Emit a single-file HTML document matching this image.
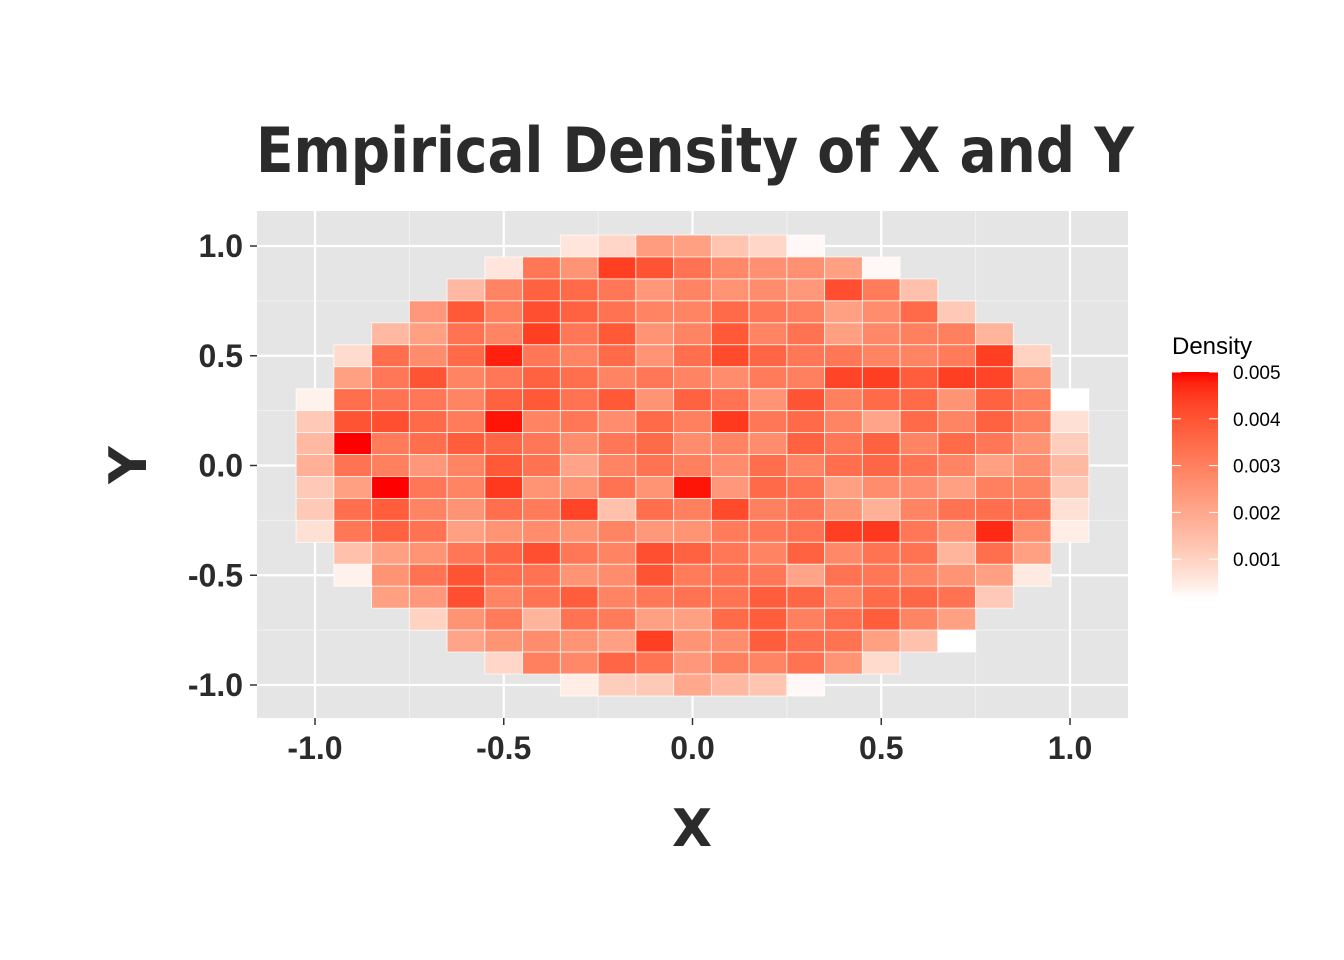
<!DOCTYPE html>
<html><head><meta charset="utf-8"><style>
html,body{margin:0;padding:0;background:#fff;}
svg{display:block;}
</style></head><body>
<svg id="chart" width="1344" height="960" xmlns="http://www.w3.org/2000/svg">
<rect width="1344" height="960" fill="#fff"/>
<text x="695" y="172" text-anchor="middle" font-family="'DejaVu Sans', 'Liberation Sans', sans-serif" font-weight="bold" font-size="62" fill="#2b2b2b" textLength="878" lengthAdjust="spacingAndGlyphs">Empirical Density of X and Y</text>
<rect x="257" y="211" width="871" height="507" fill="#e5e5e5"/>
<g id="grid"></g>
<g id="cells"></g>
<g id="axes"></g>
<text x="692" y="846" text-anchor="middle" font-family="'DejaVu Sans', 'Liberation Sans', sans-serif" font-weight="bold" font-size="52" fill="#2b2b2b">X</text>
<text transform="translate(146,465) rotate(-90)" text-anchor="middle" font-family="'DejaVu Sans', 'Liberation Sans', sans-serif" font-weight="bold" font-size="52" fill="#2b2b2b">Y</text>
<g id="legend">
<text x="1172" y="354" font-family="'Liberation Sans', sans-serif" font-size="24" fill="#000">Density</text>
<defs><linearGradient id="lg" x1="0" y1="1" x2="0" y2="0"></linearGradient></defs>
<rect x="1172" y="372" width="46" height="226" fill="url(#lg)"/>
</g>
</svg>
<script>
const xCenters = [-1.0,-0.9,-0.8,-0.7,-0.6,-0.5,-0.4,-0.3,-0.2,-0.1,0.0,0.1,0.2,0.3,0.4,0.5,0.6,0.7,0.8,0.9,1.0];
const yCenters = [1.0,0.9,0.8,0.7,0.6,0.5,0.4,0.3,0.2,0.1,0.0,-0.1,-0.2,-0.3,-0.4,-0.5,-0.6,-0.7,-0.8,-0.9,-1.0];
const _ = null;
// density values in units of 0.001; rows top (y=1.0) to bottom (y=-1.0), columns x=-1.0..1.0
const row_p10 = [_,_,_,_,_,_,_,0.6,0.9,2.3,2.2,1.3,0.9,0.25,_,_,_,_,_,_,_];
const row_p09 = [_,_,_,_,_,0.6,3.2,2.5,4.4,4.0,3.3,2.8,2.6,2.6,2.2,0.25,_,_,_,_,_];
const row_p08 = [_,_,_,_,1.6,2.9,3.7,3.5,3.2,2.4,2.9,2.5,2.7,2.4,4.1,3.1,1.4,_,_,_,_];
const row_p07 = [_,_,_,2.4,3.9,3.0,4.1,3.7,3.3,2.9,2.9,3.5,3.2,3.0,2.2,2.7,3.5,1.2,_,_,_];
const row_p06 = [_,_,1.6,2.2,3.3,2.9,4.4,3.2,3.9,2.5,2.9,3.9,2.9,3.3,2.2,2.8,3.0,3.0,1.7,_,_];
const row_p05 = [_,0.8,3.4,2.7,3.5,4.8,3.2,2.9,3.5,2.5,3.4,4.2,3.6,3.2,3.2,2.9,2.9,3.1,4.4,1.0,_];
const row_p04 = [_,2.2,3.2,4.0,2.9,3.2,3.7,3.4,2.9,3.2,2.9,2.7,3.1,3.0,4.3,4.4,3.8,4.4,4.3,2.5,_];
const row_p03 = [0.35,3.4,3.3,3.2,2.9,3.7,3.9,3.3,3.9,2.5,3.7,3.3,2.5,4.0,3.0,3.5,3.5,2.5,3.7,3.0,0.17];
const row_p02 = [1.2,4.0,4.1,3.5,3.1,4.9,2.9,3.2,2.7,3.5,3.0,4.5,3.2,3.5,2.9,2.1,3.5,2.9,3.7,3.0,0.7];
const row_p01 = [1.6,5.0,3.1,3.4,3.8,3.6,3.2,2.7,3.2,3.5,2.7,2.9,2.7,3.7,3.2,3.7,2.9,3.5,3.2,2.5,1.1];
const row_000 = [1.8,3.3,3.0,2.4,2.9,3.9,3.3,2.1,2.9,3.3,3.0,2.7,3.4,2.9,3.4,3.6,3.3,2.9,2.2,2.7,1.6];
const row_m01 = [1.2,2.2,5.0,3.2,2.9,4.5,2.5,2.5,3.3,2.5,4.9,2.4,3.5,3.3,2.2,2.7,2.7,2.2,3.0,2.9,1.2];
const row_m02 = [1.2,3.4,3.8,2.9,2.5,3.4,3.1,4.3,1.4,3.4,3.0,4.2,3.0,3.2,2.5,1.8,2.9,3.3,3.4,3.2,0.7];
const row_m03 = [0.7,3.2,3.7,3.3,2.2,2.5,2.7,2.5,2.9,2.4,2.5,3.1,3.2,3.3,4.4,4.5,3.2,2.5,4.7,2.7,0.45];
const row_m04 = [_,1.4,2.2,2.5,3.2,3.6,4.1,3.2,2.9,4.1,3.7,3.2,2.9,3.7,2.8,3.3,3.3,1.7,3.4,2.2,_];
const row_m05 = [_,0.35,2.5,3.3,4.0,3.4,3.3,2.5,2.7,4.0,3.1,3.3,3.2,2.1,3.3,3.2,2.9,2.5,2.2,0.5,_];
const row_m06 = [_,_,2.2,2.4,4.1,2.9,3.3,3.8,2.9,3.2,3.3,3.3,3.8,3.6,2.9,3.5,3.6,3.3,1.2,_,_];
const row_m07 = [_,_,_,1.0,2.5,3.1,1.7,3.3,3.1,2.2,2.2,3.5,3.8,3.0,3.4,3.8,2.9,2.2,_,_,_];
const row_m08 = [_,_,_,_,2.1,2.5,2.7,2.5,2.2,4.4,2.5,2.7,3.8,3.4,3.3,2.2,1.4,0.17,_,_,_];
const row_m09 = [_,_,_,_,_,0.9,3.0,2.8,3.6,3.3,2.4,3.0,2.9,3.3,2.5,0.8,_,_,_,_,_];
const row_m10 = [_,_,_,_,_,_,_,0.45,1.1,1.2,2.0,1.6,1.3,0.25,_,_,_,_,_,_,_];
const rows = [row_p10,row_p09,row_p08,row_p07,row_p06,row_p05,row_p04,row_p03,row_p02,row_p01,row_000,row_m01,row_m02,row_m03,row_m04,row_m05,row_m06,row_m07,row_m08,row_m09,row_m10];
const xTicks = [-1.0,-0.5,0.0,0.5,1.0];
const xTickLabels = ["-1.0","-0.5","0.0","0.5","1.0"];
const yTicks = [1.0,0.5,0.0,-0.5,-1.0];
const yTickLabels = ["1.0","0.5","0.0","-0.5","-1.0"];
const legendTicks = [1,2,3,4,5];
const legendLabels = ["0.001","0.002","0.003","0.004","0.005"];
const vMin = 0.17, vMax = 5.0;

const NS = "http://www.w3.org/2000/svg";
const sx = v => 692.5 + v * 377.5;
const sy = v => 465.5 - v * 219.5;
const legY = v => 372 + (vMax - v) / (vMax - vMin) * 226;

function lab2rgb(L,a,b){
  let fy=(L+16)/116, fx=fy+a/500, fz=fy-b/200;
  const f=t=>t*t*t>0.008856?t*t*t:(t-16/116)/7.787;
  let X=0.95047*f(fx),Y=1.0*f(fy),Z=1.08883*f(fz);
  let r=3.2406*X-1.5372*Y-0.4986*Z, g=-0.9689*X+1.8758*Y+0.0415*Z, bb=0.0557*X-0.2040*Y+1.0570*Z;
  const c=v=>{v=v>0.0031308?1.055*Math.pow(v,1/2.4)-0.055:12.92*v;return Math.round(Math.max(0,Math.min(1,v))*255);};
  return `rgb(${c(r)},${c(g)},${c(bb)})`;
}
function color(v){
  let t=Math.max(0,Math.min(1,(v-vMin)/(vMax-vMin)));
  t=Math.pow(t,0.82);
  return lab2rgb(100+(53.24-100)*t, 80.09*t, 67.20*t);
}
function mk(tag, attrs, parent){
  const e=document.createElementNS(NS,tag);
  for(const k in attrs) e.setAttribute(k,attrs[k]);
  parent.appendChild(e); return e;
}
const grid=document.getElementById('grid');
[-0.75,-0.25,0.25,0.75].forEach(v=>{
  const l=mk('line',{x1:sx(v),x2:sx(v),y1:211,y2:718,stroke:'#f2f2f2','stroke-width':1},grid);
  
  
  const m=mk('line',{x1:257,x2:1128,y1:sy(v),y2:sy(v),stroke:'#f2f2f2','stroke-width':1},grid);
  
  
});
xTicks.forEach(v=>{
  const l=mk('line',{x1:sx(v),x2:sx(v),y1:211,y2:718,stroke:'#fff','stroke-width':2.2},grid);
  
  
});
yTicks.forEach(v=>{
  const l=mk('line',{x1:257,x2:1128,y1:sy(v),y2:sy(v),stroke:'#fff','stroke-width':2.2},grid);
  
  
});
const cells=document.getElementById('cells');
rows.forEach((row,ri)=>{
  row.forEach((v,ci)=>{
    if(v===null) return;
    const x0=sx(xCenters[ci]-0.05), x1=sx(xCenters[ci]+0.05);
    const y0=sy(yCenters[ri]+0.05), y1=sy(yCenters[ri]-0.05);
    const r=mk('rect',{x:x0,y:y0,width:x1-x0,height:y1-y0,fill:color(v),stroke:'rgba(255,255,255,0.75)','stroke-width':0.9},cells);
    
    
  });
});
const axes=document.getElementById('axes');
xTicks.forEach((v,i)=>{
  const t=mk('line',{x1:sx(v),x2:sx(v),y1:718,y2:725,stroke:'#333','stroke-width':1.5},axes);
  
  
  const tx=mk('text',{x:sx(v),y:759,'text-anchor':'middle','font-family':"'Liberation Sans', sans-serif",'font-weight':'bold','font-size':32,fill:'#2b2b2b'},axes);
  tx.textContent=xTickLabels[i];
  
  
});
yTicks.forEach((v,i)=>{
  const t=mk('line',{x1:250,x2:257,y1:sy(v),y2:sy(v),stroke:'#333','stroke-width':1.5},axes);
  
  
  const tx=mk('text',{x:243,y:sy(v)+11,'text-anchor':'end','font-family':"'Liberation Sans', sans-serif",'font-weight':'bold','font-size':32,fill:'#2b2b2b'},axes);
  tx.textContent=yTickLabels[i];
  
  
});
const lg=document.getElementById('lg');
for(let i=0;i<=20;i++){
  const v=vMin+(vMax-vMin)*i/20;
  mk('stop',{offset:(i/20),'stop-color':color(v)},lg);
}
const legend=document.getElementById('legend');
legendTicks.forEach((v,i)=>{
  const y=legY(v);
  const a=mk('line',{x1:1172,x2:1181,y1:y,y2:y,stroke:'#fff','stroke-width':1},legend);
  
  
  const b=mk('line',{x1:1209,x2:1218,y1:y,y2:y,stroke:'#fff','stroke-width':1},legend);
  
  
  const tx=mk('text',{x:1233,y:y+7,'font-family':"'Liberation Sans', sans-serif",'font-size':19,fill:'#000'},legend);
  tx.textContent=legendLabels[i];
  
  
});
</script>
</body></html>
